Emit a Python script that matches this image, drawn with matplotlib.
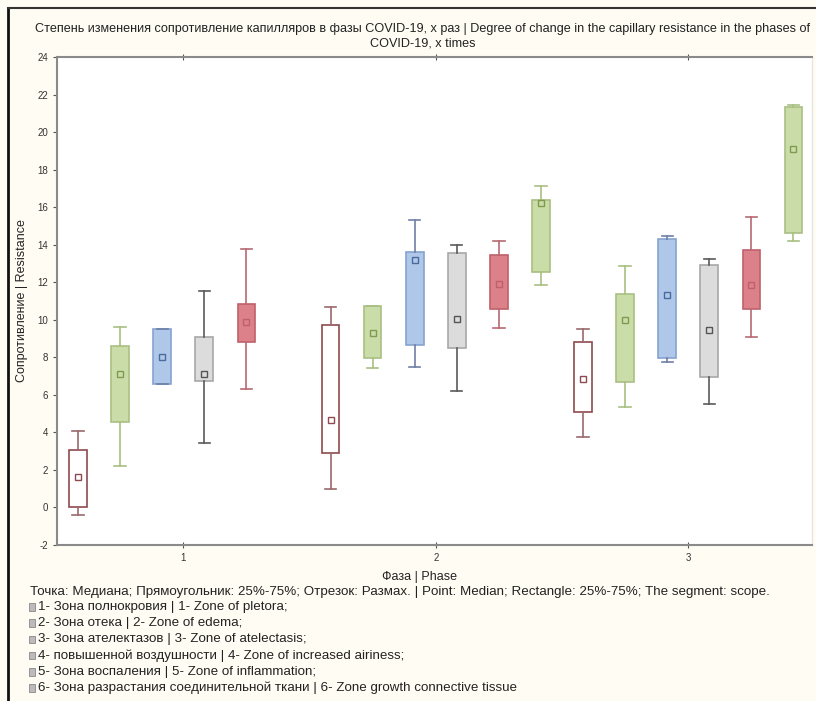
import matplotlib
matplotlib.use("Agg")
import matplotlib.pyplot as plt
from matplotlib.lines import Line2D
import numpy as np

phases = [1, 2, 3]
zone_labels = [
    "1- Зона полнокровия | 1- Zone of pletora;",
    "2- Зона отека | 2- Zone of edema;",
    "3- Зона ателектазов | 3- Zone of atelectasis;",
    "4- повышенной воздушности | 4- Zone of increased airiness;",
    "5- Зона воспаления | 5- Zone of inflammation;",
    "6- Зона разрастания соединительной ткани | 6- Zone growth connective tissue",
]
# per zone, per phase: min, q25, median, q75, max  (None = no data)
zone1 = [[-0.4, 0.0, 1.6, 3.05, 4.1], [1.0, 2.9, 4.66, 9.72, 10.7], [3.77, 5.07, 6.85, 8.83, 9.49]]
zone2 = [[2.2, 4.54, 7.1, 8.6, 9.63], [7.45, 7.98, 9.28, 10.74, 10.74], [5.37, 6.69, 9.99, 11.36, 12.88]]
zone3 = [[6.58, 6.58, 8.0, 9.5, 9.5], [7.5, 8.66, 13.19, 13.63, 15.32], [7.77, 7.95, 11.32, 14.3, 14.48]]
zone4 = [[3.42, 6.76, 7.1, 9.07, 11.53], [6.22, 8.51, 10.04, 13.58, 13.97], [5.5, 6.94, 9.46, 12.92, 13.22]]
zone5 = [[6.3, 8.84, 9.87, 10.83, 13.75], [9.55, 10.58, 11.9, 13.45, 14.22], [9.07, 10.59, 11.85, 13.7, 15.49]]
zone6 = [None, [11.84, 12.53, 16.24, 16.38, 17.13], [14.21, 14.64, 19.08, 21.35, 21.44]]
zones = [zone1, zone2, zone3, zone4, zone5, zone6]

fills = ["white", "#CADDA8", "#AFC8EA", "#DCDCDC", "#DC8089", "#CADDA8"]
edges = ["#8E4A4E", "#A9BF82", "#86A3CF", "#A8A8A8", "#C0606A", "#A9BF82"]
wcols = ["#9A6A6E", "#A9BF82", "#6F7FA8", "#5A5A5A", "#B76A72", "#A9BF82"]
mcols = ["#8E4A4E", "#7E9A50", "#4A6A9E", "#555555", "#C0606A", "#7E9A50"]

FONT = ["Liberation Sans Narrow", "Liberation Sans", "DejaVu Sans"]
plt.rcParams["font.family"] = FONT
plt.rcParams["axes.unicode_minus"] = False

fig = plt.figure(figsize=(8.16, 7.01), dpi=100)
fig.patch.set_facecolor("#FFFCF3")
ax = fig.add_axes([57/816, (701-545)/701, (812-57)/816, 488/701])
ax.set_facecolor("white")

step = 1/6
for zi, zone in enumerate(zones):
    for pi, ph in enumerate(phases):
        st = zone[pi]
        if st is None:
            continue
        pos = ph + (zi - 2.5) * step
        s = dict(whislo=st[0], q1=st[1], med=st[2], q3=st[3], whishi=st[4])
        ax.bxp([s], positions=[pos], widths=0.07, showfliers=False,
               patch_artist=True, manage_ticks=False,
               boxprops=dict(facecolor=fills[zi], edgecolor=edges[zi], linewidth=1.2),
               whiskerprops=dict(color=wcols[zi], linewidth=1.2),
               capprops=dict(color=wcols[zi], linewidth=1.2),
               medianprops=dict(linewidth=0), capwidths=0.045)
        ax.plot([pos], [st[2]], marker="s", ms=4, mfc="none", mec=mcols[zi], mew=1.0)

ax.set_xlim(0.5, 3.49)
ax.set_ylim(-2, 24)
ax.set_yticks(np.arange(-2, 25, 2))
ax.set_xticks(phases)
ax.tick_params(axis="both", labelsize=7, colors="#555555", length=3, width=0.8,
               direction="out")
ax.tick_params(axis="x", top=True, direction="inout", length=5)
for sp in ax.spines.values():
    sp.set_color("#8A8A8A")
    sp.set_linewidth(1.5)
ax.spines["right"].set_color("#E6E6E6")
ax.spines["right"].set_linewidth(1.0)
for lbl in ax.get_xticklabels() + ax.get_yticklabels():
    lbl.set_color("#333333")

ax.set_ylabel("Сопротивление | Resistance", fontsize=9, color="#222222")
ax.yaxis.set_label_coords(-(57 - 28) / 755, 0.5)

fig.text(420/816, 1 - 577/701, "Фаза | Phase", ha="center", va="center",
         fontsize=9, color="#222222")

fig.text(423/816, 1 - 36/701, "Степень изменения сопротивление капилляров в фазы COVID-19, х раз | Degree of change in the capillary resistance in the phases of\nCOVID-19, x times",
         ha="center", va="center", fontsize=9.1, color="#222222", linespacing=1.25)

fig.text(30/816, 1 - 592/701, "Точка: Медиана; Прямоугольник: 25%-75%; Отрезок: Размах. | Point: Median; Rectangle: 25%-75%; The segment: scope.",
         ha="left", va="center", fontsize=9.6, color="#222222")
for i, lab in enumerate(zone_labels):
    y = 1 - (607 + i * 16.2) / 701
    fig.text(38/816, y, lab, ha="left", va="center", fontsize=9.6, color="#222222")
    fig.patches.append(plt.Rectangle((29/816, y - 0.0055), 6/816, 0.011,
                                     transform=fig.transFigure, facecolor="#BBBBBB",
                                     edgecolor="#888888", linewidth=0.6, figure=fig))

# outer frame lines (left and top)
fig.add_artist(Line2D([8/816, 8/816], [0, 1 - 8/701], transform=fig.transFigure, color="#111111", lw=2))
fig.add_artist(Line2D([8/816, 1], [1 - 8/701, 1 - 8/701], transform=fig.transFigure, color="#333333", lw=1.5))

fig.savefig("out.png", dpi=100, facecolor=fig.get_facecolor())
